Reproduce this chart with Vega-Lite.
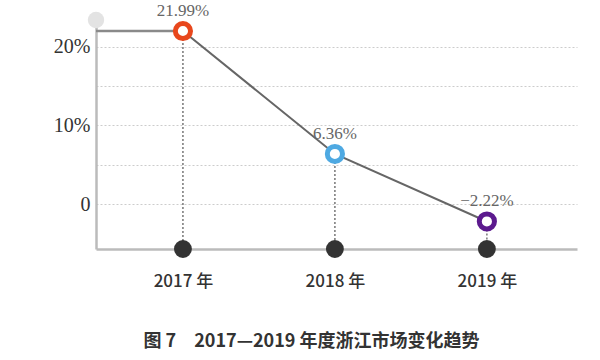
{
  "$schema": "https://vega.github.io/schema/vega-lite/v6.json",
  "width": 481,
  "height": 229,
  "autosize": {"type": "none"},
  "padding": {"left": 96, "top": 20, "right": 23, "bottom": 111},
  "background": "white",
  "config": {"view": {"stroke": null}},
  "title": {
    "text": "图 7　2017—2019 年度浙江市场变化趋势",
    "orient": "bottom",
    "anchor": "middle",
    "font": "Noto Sans CJK SC",
    "fontSize": 18,
    "fontWeight": "bold",
    "color": "#333333",
    "dx": -25,
    "offset": 44
  },
  "data": {
    "values": [
      {"year": 2017, "value": 21.99, "label": "21.99%"},
      {"year": 2018, "value": 6.36, "label": "6.36%"},
      {"year": 2019, "value": -2.22, "label": "−2.22%"}
    ]
  },
  "layer": [
    {
      "mark": {"type": "rule", "color": "#777777", "strokeWidth": 1.5, "strokeDash": [2, 2]},
      "encoding": {
        "x": {
          "field": "year",
          "type": "quantitative",
          "scale": {"domain": [2016.428, 2019.593], "nice": false, "zero": false},
          "axis": {
            "values": [2017, 2018, 2019],
            "labelExpr": "datum.value + ' 年'",
            "ticks": false,
            "grid": false,
            "domainColor": "#bbbbbb",
            "domainWidth": 2.5,
            "labelFont": "Noto Sans CJK SC",
            "labelFontSize": 17,
            "labelFontWeight": 500,
            "labelColor": "#333333",
            "labelPadding": 24,
            "title": null
          }
        },
        "y": {
          "field": "value",
          "type": "quantitative",
          "scale": {"domain": [-5.72, 23.39], "nice": false, "zero": false},
          "axis": {
            "values": [0, 5, 10, 15, 20],
            "labelExpr": "datum.value == 0 ? '0' : (datum.value % 10 == 0 ? datum.value + '%' : '')",
            "grid": true,
            "gridDash": [2, 2],
            "gridColor": "#cccccc",
            "gridWidth": 1,
            "domainColor": "#bbbbbb",
            "domainWidth": 2.5,
            "ticks": false,
            "labelFont": "Liberation Serif",
            "labelFontSize": 20,
            "labelColor": "#333333",
            "labelPadding": 6,
            "title": null
          }
        },
        "y2": {"datum": -5.72}
      }
    },
    {
      "transform": [{"filter": "datum.year == 2017"}],
      "mark": {"type": "rule", "color": "#8a8a8a", "strokeWidth": 2.5},
      "encoding": {
        "x": {"field": "year", "type": "quantitative"},
        "x2": {"datum": 2016.428},
        "y": {"field": "value", "type": "quantitative"}
      }
    },
    {
      "mark": {"type": "line", "color": "#666666", "strokeWidth": 2},
      "encoding": {
        "x": {"field": "year", "type": "quantitative"},
        "y": {"field": "value", "type": "quantitative"}
      }
    },
    {
      "mark": {"type": "point", "shape": "circle", "filled": true, "color": "#333333", "opacity": 1, "size": 320},
      "encoding": {
        "x": {"field": "year", "type": "quantitative"},
        "y": {"datum": -5.72, "type": "quantitative"}
      }
    },
    {
      "transform": [{"filter": "datum.year == 2017"}],
      "mark": {"type": "point", "shape": "circle", "filled": true, "color": "#e3e3e3", "opacity": 1, "size": 270},
      "encoding": {
        "x": {"datum": 2016.428, "type": "quantitative"},
        "y": {"datum": 23.39, "type": "quantitative"}
      }
    },
    {
      "mark": {"type": "point", "shape": "circle", "filled": false, "fill": "white", "fillOpacity": 1, "opacity": 1, "strokeWidth": 5, "size": 230},
      "encoding": {
        "x": {"field": "year", "type": "quantitative"},
        "y": {"field": "value", "type": "quantitative"},
        "stroke": {
          "field": "label",
          "type": "nominal",
          "scale": {"domain": ["21.99%", "6.36%", "−2.22%"], "range": ["#e8471c", "#4ea9e2", "#5c1a8e"]},
          "legend": null
        }
      }
    },
    {
      "mark": {"type": "text", "dy": -20, "font": "Liberation Serif", "fontSize": 17, "color": "#666666"},
      "encoding": {
        "x": {"field": "year", "type": "quantitative"},
        "y": {"field": "value", "type": "quantitative"},
        "text": {"field": "label"}
      }
    }
  ]
}
